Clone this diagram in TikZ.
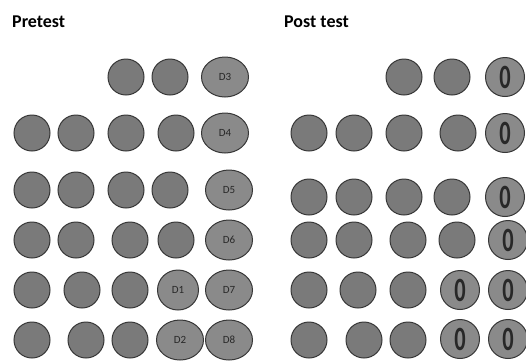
\documentclass[tikz,border=0pt]{standalone}
\usepackage{fontspec}
\setmainfont{Carlito}
\usetikzlibrary{shapes.geometric}
\definecolor{dotfill}{RGB}{122,122,122}
\definecolor{lightfill}{RGB}{138,138,138}
\definecolor{rimcol}{RGB}{55,55,55}
\definecolor{txtcol}{RGB}{40,40,40}
\tikzset{
  dot/.style={circle,draw=rimcol,line width=1pt,fill=dotfill,minimum size=36pt,inner sep=0pt},
  dlab/.style={ellipse,draw=rimcol,line width=1pt,fill=lightfill,minimum width=47pt,minimum height=40pt,inner sep=0pt,text=txtcol,font=\fontsize{11}{11}\selectfont},
  zlab/.style={circle,draw=rimcol,line width=1pt,fill=lightfill,minimum size=39pt,inner sep=0pt,text=txtcol,font=\bfseries\fontsize{34}{34}\selectfont},
  ttl/.style={anchor=base west,inner sep=0pt,font=\bfseries\fontsize{18}{18}\selectfont}
}
\newcommand{\zro}{\scalebox{0.66}[1]{0}}
\begin{document}
\begin{tikzpicture}[x=1pt,y=-1pt]
\useasboundingbox (0,0) rectangle (526,360);
\node[ttl] (tpre) at (12,27) {Pretest};
\node[ttl] (tpost) at (284,27) {Post test};
% Pretest
\node[dot] (a11) at (126,77) {};
\node[dot] (a12) at (170,77) {};
\node[dlab] (a13) at (225,77) {D3};
\node[dot] (a21) at (32,133) {};
\node[dot] (a22) at (76,133) {};
\node[dot] (a23) at (126,133) {};
\node[dot] (a24) at (176,133) {};
\node[dlab] (a25) at (225,133) {D4};
\node[dot] (a31) at (32,190) {};
\node[dot] (a32) at (76,190) {};
\node[dot] (a33) at (126,190) {};
\node[dot] (a34) at (170,190) {};
\node[dlab] (a35) at (229,190) {D5};
\node[dot] (a41) at (32,240) {};
\node[dot] (a42) at (76,240) {};
\node[dot] (a43) at (130,240) {};
\node[dot] (a44) at (176,240) {};
\node[dlab] (a45) at (229,240) {D6};
\node[dot] (a51) at (32,290) {};
\node[dot] (a52) at (82,290) {};
\node[dot] (a53) at (130,290) {};
\node[dlab,minimum width=41pt] (a54) at (178,290) {D1};
\node[dlab] (a55) at (229,290) {D7};
\node[dot] (a61) at (32,340) {};
\node[dot] (a62) at (86,340) {};
\node[dot] (a63) at (130,340) {};
\node[dlab] (a64) at (180,340) {D2};
\node[dlab] (a65) at (229,340) {D8};
% Post test
\node[dot] (b11) at (404,77) {};
\node[dot] (b12) at (452,77) {};
\node[zlab] (b13) at (505,77) {\zro};
\node[dot] (b21) at (309,133) {};
\node[dot] (b22) at (354,133) {};
\node[dot] (b23) at (404,133) {};
\node[dot] (b24) at (458,133) {};
\node[zlab] (b25) at (505,133) {\zro};
\node[dot] (b31) at (309,197) {};
\node[dot] (b32) at (354,197) {};
\node[dot] (b33) at (404,197) {};
\node[dot] (b34) at (452,197) {};
\node[zlab] (b35) at (505,197) {\zro};
\node[dot] (b41) at (309,240) {};
\node[dot] (b42) at (354,240) {};
\node[dot] (b43) at (408,240) {};
\node[dot] (b44) at (457,240) {};
\node[zlab] (b45) at (508,240) {\zro};
\node[dot] (b51) at (309,290) {};
\node[dot] (b52) at (358,290) {};
\node[dot] (b53) at (408,290) {};
\node[zlab] (b54) at (460,290) {\zro};
\node[zlab] (b55) at (508,290) {\zro};
\node[dot] (b61) at (309,340) {};
\node[dot] (b62) at (364,340) {};
\node[dot] (b63) at (408,340) {};
\node[zlab] (b64) at (460,339) {\zro};
\node[zlab] (b65) at (508,339) {\zro};
\end{tikzpicture}
\end{document}
